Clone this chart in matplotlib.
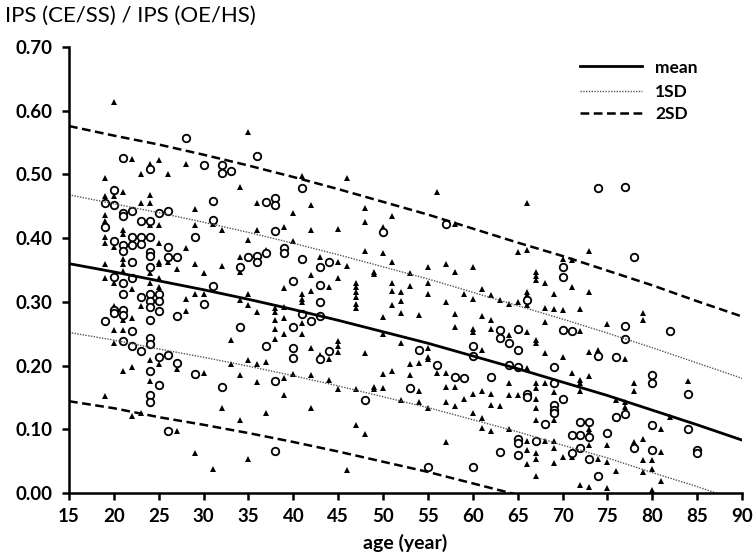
import matplotlib
matplotlib.use("Agg")
from matplotlib import pyplot as plt

# fitted curves, read every 5 years
curve_age = [15, 20, 25, 30, 35, 40, 45, 50, 55, 60, 65, 70, 75, 80, 85, 90]
mean_line = [0.360, 0.347, 0.333, 0.319, 0.304, 0.288, 0.271, 0.253,
             0.235, 0.215, 0.195, 0.174, 0.153, 0.130, 0.107, 0.083]
sd1_upper = [0.468, 0.454, 0.440, 0.425, 0.409, 0.392, 0.374, 0.355,
             0.336, 0.315, 0.294, 0.273, 0.251, 0.228, 0.204, 0.180]
sd1_lower = [0.252, 0.240, 0.226, 0.213, 0.199, 0.184, 0.168, 0.151,
             0.134, 0.115, 0.096, 0.075, 0.055, 0.032, 0.010, -0.014]
sd2_upper = [0.576, 0.561, 0.547, 0.531, 0.514, 0.496, 0.477, 0.457,
             0.437, 0.415, 0.393, 0.372, 0.349, 0.326, 0.301, 0.277]
sd2_lower = [0.144, 0.133, 0.119, 0.107, 0.094, 0.080, 0.065, 0.049,
             0.033, 0.015, -0.003, -0.022, -0.042, -0.064, -0.087, -0.111]

# filled triangles (age, value)
tri = [
    (20, 0.614), (22, 0.524), (24, 0.517), (25, 0.522), (23, 0.500), (26, 0.500), (28, 0.516),
    (19, 0.495), (21, 0.473), (19, 0.466), (20, 0.466), (23, 0.455), (24, 0.455), (24, 0.468),
    (19, 0.436), (29, 0.446), (19, 0.427), (25, 0.421), (24, 0.421), (29, 0.421), (31, 0.423),
    (32, 0.413), (21, 0.413), (21, 0.407), (19, 0.402), (19, 0.393), (25, 0.393), (20, 0.386),
    (22, 0.397), (28, 0.385), (25, 0.363), (25, 0.359), (26, 0.363), (21, 0.368), (21, 0.360),
    (19, 0.360), (29, 0.360), (32, 0.356), (27, 0.351), (30, 0.345), (21, 0.348), (19, 0.338),
    (24, 0.345), (24, 0.330), (25, 0.337), (20, 0.329), (22, 0.320), (25, 0.324), (28, 0.304),
    (29, 0.313), (30, 0.313), (23, 0.293), (20, 0.293), (20, 0.283), (28, 0.285), (22, 0.275),
    (21, 0.271), (20, 0.256), (21, 0.256), (20, 0.235), (33, 0.240), (24, 0.209), (25, 0.203),
    (33, 0.203), (21, 0.192), (22, 0.197), (27, 0.194), (30, 0.188), (24, 0.176), (19, 0.152),
    (32, 0.133), (22, 0.121), (23, 0.125), (27, 0.098), (29, 0.062), (31, 0.037),
    (35, 0.567), (41, 0.497), (46, 0.495), (34, 0.481), (36, 0.455), (42, 0.452), (40, 0.439),
    (48, 0.448), (48, 0.426), (51, 0.435), (35, 0.397), (36, 0.413), (39, 0.418), (40, 0.396),
    (42, 0.413), (45, 0.415), (50, 0.417), (48, 0.380), (50, 0.376), (34, 0.371), (37, 0.382),
    (34, 0.347), (43, 0.371), (45, 0.363), (46, 0.356), (51, 0.363), (49, 0.347), (49, 0.344),
    (42, 0.342), (45, 0.338), (39, 0.321), (44, 0.323), (42, 0.317), (47, 0.330), (47, 0.324),
    (47, 0.316), (47, 0.308), (47, 0.297), (47, 0.290), (51, 0.329), (51, 0.317), (52, 0.316),
    (41, 0.312), (41, 0.305), (41, 0.299), (35, 0.312), (34, 0.303), (35, 0.295), (52, 0.302),
    (51, 0.295), (36, 0.284), (38, 0.291), (38, 0.284), (38, 0.271), (39, 0.292), (39, 0.275),
    (41, 0.267), (50, 0.277), (38, 0.257), (39, 0.250), (41, 0.250), (50, 0.250), (38, 0.241),
    (42, 0.227), (43, 0.216), (44, 0.210), (45, 0.239), (45, 0.230), (45, 0.222), (48, 0.219),
    (35, 0.208), (36, 0.203), (37, 0.206), (40, 0.187), (42, 0.185), (34, 0.185), (36, 0.174),
    (39, 0.181), (44, 0.178), (50, 0.187), (51, 0.191), (45, 0.163), (47, 0.163), (49, 0.167),
    (49, 0.163), (50, 0.164), (52, 0.146), (39, 0.154), (42, 0.133), (37, 0.125), (34, 0.114),
    (47, 0.107), (48, 0.093), (35, 0.053), (46, 0.036),
    (56, 0.473), (66, 0.455), (58, 0.423), (65, 0.378), (66, 0.382), (70, 0.368), (71, 0.365),
    (53, 0.346), (55, 0.354), (57, 0.360), (58, 0.347), (60, 0.354), (67, 0.347), (67, 0.340),
    (67, 0.334), (53, 0.325), (55, 0.329), (55, 0.313), (57, 0.300), (59, 0.313), (60, 0.305),
    (61, 0.320), (62, 0.311), (63, 0.303), (64, 0.297), (65, 0.300), (66, 0.316), (66, 0.311),
    (66, 0.295), (68, 0.329), (69, 0.313), (69, 0.289), (70, 0.287), (68, 0.290), (71, 0.324),
    (52, 0.282), (54, 0.279), (58, 0.281), (58, 0.261), (61, 0.278), (62, 0.271), (62, 0.258),
    (60, 0.257), (60, 0.252), (66, 0.253), (68, 0.268), (67, 0.240), (67, 0.235), (64, 0.248),
    (52, 0.236), (55, 0.228), (55, 0.214), (55, 0.210), (61, 0.225), (68, 0.219), (70, 0.214),
    (53, 0.202), (54, 0.204), (56, 0.189), (57, 0.189), (53, 0.185), (66, 0.196), (71, 0.189),
    (54, 0.160), (57, 0.166), (58, 0.166), (64, 0.172), (67, 0.172), (67, 0.165), (68, 0.172),
    (60, 0.156), (61, 0.160), (62, 0.156), (64, 0.153), (65, 0.153), (67, 0.147), (69, 0.159),
    (69, 0.114), (54, 0.142), (55, 0.134), (57, 0.143), (58, 0.137), (59, 0.148), (60, 0.126),
    (62, 0.138), (63, 0.136), (67, 0.133), (61, 0.117), (61, 0.102), (62, 0.098), (64, 0.101),
    (67, 0.114), (66, 0.082), (68, 0.082), (69, 0.082), (69, 0.070), (66, 0.068), (67, 0.063),
    (67, 0.053), (70, 0.057), (57, 0.080), (66, 0.046), (69, 0.047), (67, 0.026),
    (73, 0.380), (73, 0.315), (72, 0.289), (72, 0.255), (75, 0.266), (79, 0.282), (79, 0.271),
    (73, 0.222), (74, 0.224), (77, 0.210), (72, 0.178), (72, 0.172), (72, 0.160), (73, 0.183),
    (78, 0.172), (78, 0.160), (84, 0.176), (76, 0.146), (77, 0.143), (77, 0.135), (82, 0.120),
    (73, 0.100), (73, 0.096), (81, 0.100), (78, 0.080), (79, 0.085), (81, 0.065), (75, 0.075),
    (73, 0.075), (71, 0.057), (74, 0.053), (75, 0.049), (79, 0.052), (80, 0.052), (76, 0.035),
    (79, 0.033), (80, 0.037), (72, 0.012), (73, 0.010), (75, 0.007), (80, 0.004), (81, 0.018),
]

# open circles (age, value)
circ = [
    (28, 0.558), (21, 0.526), (24, 0.508), (30, 0.515), (32, 0.515), (32, 0.502), (33, 0.505),
    (20, 0.475), (19, 0.455), (20, 0.452), (31, 0.459), (21, 0.440), (21, 0.435), (22, 0.443),
    (25, 0.440), (26, 0.443), (23, 0.427), (24, 0.427), (19, 0.417), (31, 0.429), (22, 0.402),
    (23, 0.402), (24, 0.402), (29, 0.402), (20, 0.395), (21, 0.389), (22, 0.389), (23, 0.391),
    (26, 0.386), (21, 0.380), (24, 0.379), (24, 0.372), (26, 0.371), (27, 0.371), (22, 0.362),
    (24, 0.355), (20, 0.339), (22, 0.337), (21, 0.330), (31, 0.325), (21, 0.312), (23, 0.308),
    (24, 0.312), (24, 0.302), (25, 0.312), (25, 0.302), (30, 0.297), (24, 0.292), (20, 0.287),
    (20, 0.283), (21, 0.287), (21, 0.279), (25, 0.286), (27, 0.278), (19, 0.270), (24, 0.272),
    (22, 0.255), (21, 0.239), (22, 0.231), (24, 0.243), (24, 0.234), (23, 0.223), (25, 0.214),
    (26, 0.217), (27, 0.204), (24, 0.191), (29, 0.187), (25, 0.169), (32, 0.167), (24, 0.154),
    (24, 0.142), (26, 0.097),
    (36, 0.529), (41, 0.479), (37, 0.456), (38, 0.463), (38, 0.452), (38, 0.411), (50, 0.410),
    (39, 0.385), (39, 0.376), (35, 0.371), (36, 0.372), (36, 0.362), (37, 0.376), (34, 0.354),
    (41, 0.367), (44, 0.362), (43, 0.354), (40, 0.333), (43, 0.326), (43, 0.299), (41, 0.281),
    (43, 0.278), (42, 0.270), (40, 0.261), (34, 0.261), (37, 0.230), (40, 0.227), (40, 0.212),
    (43, 0.211), (44, 0.223), (38, 0.176), (48, 0.146), (38, 0.066),
    (57, 0.422), (70, 0.355), (70, 0.339), (66, 0.303), (63, 0.256), (63, 0.243), (65, 0.258),
    (64, 0.236), (65, 0.224), (70, 0.256), (71, 0.254), (54, 0.225), (60, 0.231), (60, 0.215),
    (56, 0.201), (58, 0.182), (59, 0.181), (62, 0.182), (64, 0.201), (65, 0.197), (69, 0.198),
    (53, 0.165), (69, 0.173), (70, 0.148), (66, 0.156), (66, 0.151), (69, 0.138), (69, 0.130),
    (69, 0.125), (68, 0.108), (71, 0.091), (65, 0.084), (65, 0.078), (67, 0.081), (63, 0.064),
    (65, 0.059), (71, 0.062), (60, 0.040), (55, 0.040),
    (74, 0.478), (77, 0.481), (78, 0.371), (77, 0.262), (77, 0.241), (82, 0.254), (74, 0.215),
    (76, 0.214), (80, 0.185), (80, 0.173), (84, 0.155), (76, 0.120), (77, 0.124), (72, 0.112),
    (73, 0.111), (72, 0.091), (73, 0.088), (80, 0.107), (84, 0.101), (75, 0.094), (78, 0.070),
    (80, 0.067), (85, 0.067), (85, 0.062), (72, 0.070), (73, 0.054), (74, 0.027),
]

x_ticks = [15, 20, 25, 30, 35, 40, 45, 50, 55, 60, 65, 70, 75, 80, 85, 90]
y_ticks = [0.0, 0.1, 0.2, 0.3, 0.4, 0.5, 0.6, 0.7]

mean_style = dict(color='black', lw=2.0)
sd1_style = dict(color='#555555', lw=1.0, linestyle=(0, (1, 1)))
sd2_style = dict(color='black', lw=1.8, linestyle=(0, (3.5, 1.8)))

plt.rcParams['font.family'] = ['Lato', 'DejaVu Sans']

fig = plt.figure(figsize=(7.56, 5.57), dpi=100)
ax = fig.add_axes([0.0913, 0.115, 0.8902, 0.8005])

ax.plot([a for a, v in tri], [v for a, v in tri], linestyle='none', marker='^',
        markersize=5.0, color='black', markeredgewidth=0)
ax.plot([a for a, v in circ], [v for a, v in circ], linestyle='none', marker='o',
        markersize=5.4, markerfacecolor='white', markeredgecolor='black', markeredgewidth=1.3)

ax.plot(curve_age, mean_line, **mean_style)
ax.plot(curve_age, sd1_upper, **sd1_style)
ax.plot(curve_age, sd1_lower, **sd1_style)
ax.plot(curve_age, sd2_upper, **sd2_style)
ax.plot(curve_age, sd2_lower, **sd2_style)

ax.set_xlim(15, 90)
ax.set_ylim(0, 0.7)
ax.set_xticks(x_ticks)
ax.set_yticks(y_ticks)
ax.set_yticklabels(['%.2f' % t for t in y_ticks])
for side in ['top', 'right']:
    ax.spines[side].set_visible(False)
for side in ['left', 'bottom']:
    ax.spines[side].set_linewidth(1.8)
ax.tick_params(width=1.8, length=5, labelsize=13.5)
ax.tick_params(axis='y', pad=7)
ax.tick_params(axis='x', pad=6)
for lbl in ax.get_xticklabels() + ax.get_yticklabels():
    lbl.set_fontweight('bold')

ax.set_xlabel('age (year)', fontsize=14, fontweight='bold', labelpad=6)
fig.text(0.006, 0.972, 'IPS (CE/SS) / IPS (OE/HS)', fontsize=16, va='center', ha='left')

# legend, drawn by hand in axes coordinates
legend_rows = [('mean', mean_style, 0.957), ('1SD', sd1_style, 0.902), ('2SD', sd2_style, 0.853)]
for name, style, yy in legend_rows:
    ax.plot([0.759, 0.851], [yy, yy], transform=ax.transAxes, clip_on=False, **style)
    ax.text(0.871, yy, name, transform=ax.transAxes, fontsize=12.5, fontweight='bold',
            va='center_baseline', ha='left')

fig.savefig('out.png', dpi=100)
